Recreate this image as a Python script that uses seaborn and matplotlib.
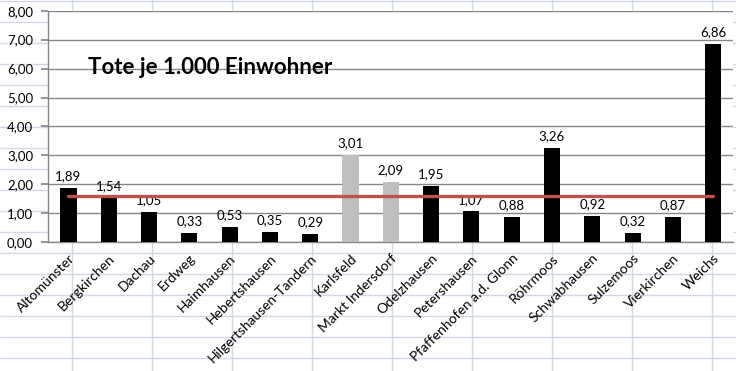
import numpy as np
import matplotlib
matplotlib.use("Agg")
import matplotlib.pyplot as plt
from matplotlib.lines import Line2D
import seaborn as sns

gemeinden = ["Altomünster", "Bergkirchen", "Dachau", "Erdweg", "Haimhausen",
             "Hebertshausen", "Hilgertshausen-Tandern", "Karlsfeld",
             "Markt Indersdorf", "Odelzhausen", "Petershausen",
             "Pfaffenhofen a.d. Glonn", "Röhrmoos", "Schwabhausen",
             "Sulzemoos", "Vierkirchen", "Weichs"]
tote = [1.89, 1.54, 1.05, 0.33, 0.53, 0.35, 0.29, 3.01, 2.09, 1.95,
        1.07, 0.88, 3.26, 0.92, 0.32, 0.87, 6.86]
grau = ["Karlsfeld", "Markt Indersdorf"]
mittel = 1.59
yticks = [0, 1, 2, 3, 4, 5, 6, 7, 8]
titel = "Tote je 1.000 Einwohner"

sns.set_theme(style="white")
plt.rcParams['font.family'] = ['Lato', 'DejaVu Sans']
plt.rcParams['text.color'] = 'black'
plt.rcParams['xtick.color'] = 'black'
plt.rcParams['ytick.color'] = 'black'

W, H = 736, 371
fig = plt.figure(figsize=(W / 100, H / 100), dpi=100)
fig.patch.set_facecolor("white")

# spreadsheet grid behind the chart
gcol = "#d0d7e5"
for yy in np.arange(1, 372, 21):
    fig.add_artist(Line2D([0, 1], [1 - yy / H, 1 - yy / H], color=gcol, lw=1, zorder=0))
for xx in np.arange(72, 736, 80):
    fig.add_artist(Line2D([xx / W, xx / W], [0, 1], color=gcol, lw=1, zorder=0))

ax = fig.add_axes([48.3 / W, 1 - 242.3 / H, 685 / W, 231.6 / H], zorder=2)
ax.set_facecolor("white")

farben = {g: ("#bfbfbf" if g in grau else "black") for g in gemeinden}
sns.barplot(x=gemeinden, y=tote, hue=gemeinden, palette=farben, legend=False,
            width=0.4, saturation=1, linewidth=0, ax=ax, zorder=3)

for c in ax.containers:
    ax.bar_label(c, labels=[f"{v:.2f}".replace(".", ",") for v in c.datavalues],
                 padding=4, fontsize=9.5, color="black")

ax.plot(range(len(gemeinden)), [mittel] * len(gemeinden), color="#c0504d", lw=2.4, zorder=4)

ax.set_xlim(-0.5, len(gemeinden) - 0.5)
ax.set_ylim(0, 8)
ax.set_yticks(yticks)
ax.set_yticklabels([f"{v:.2f}".replace(".", ",") for v in yticks], fontsize=9.5)
ax.yaxis.grid(True, color="#868686", lw=1)
ax.set_axisbelow(True)

ax.set_xticks(np.arange(len(gemeinden)))
ax.set_xticklabels(gemeinden, rotation=45, ha="right", rotation_mode="anchor", fontsize=10)
ax.tick_params(axis="x", length=0, pad=7)
ax.set_xticks(np.arange(-0.5, len(gemeinden)), minor=True)
ax.tick_params(axis="x", which="minor", length=4, color="#868686", direction="out")
ax.tick_params(axis="y", length=5, color="#868686", direction="out", pad=6, left=True)
ax.set_xlabel("")
ax.set_ylabel("")

for s in ["top", "right"]:
    ax.spines[s].set_visible(False)
for s in ["left", "bottom"]:
    ax.spines[s].set_color("#868686")
    ax.spines[s].set_linewidth(1)

ax.text(0.48, 6.05, titel, fontsize=16, fontweight="bold", ha="left", va="center", zorder=5)

fig.savefig("out.png", dpi=100, facecolor=fig.get_facecolor())
